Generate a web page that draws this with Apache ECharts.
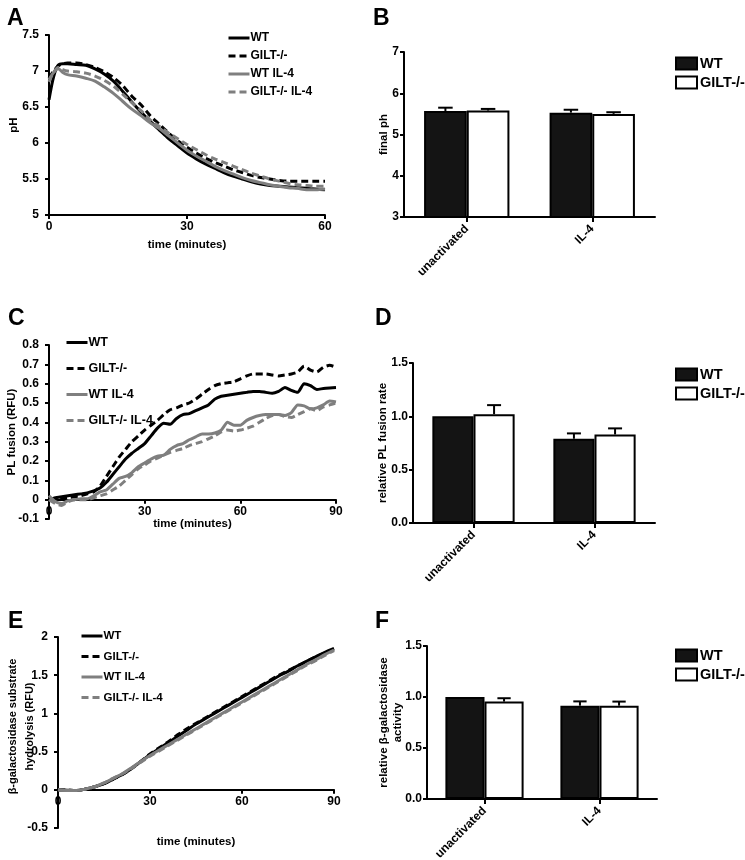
<!DOCTYPE html>
<html><head><meta charset="utf-8">
<script src="https://cdn.jsdelivr.net/npm/echarts/dist/echarts.min.js"></script>
<style>html,body{margin:0;padding:0;background:#fff;}.c{position:absolute;left:0;top:0;width:745px;height:860px;}</style>
</head><body>
<div id="l" class="c"></div><div id="b" class="c"></div>
<script>
// ---------- Panel A : pH vs time ----------
const tA = [0,1,2,3,4,6,8,10,12,14,16,18,20,22,24,26,28,30,32,34,36,38,40,42,44,46,48,50,52,54,56,58,60];
const aWT    = [6.6,6.92,7.08,7.1,7.1,7.09,7.08,7.03,6.96,6.86,6.72,6.57,6.43,6.3,6.18,6.06,5.96,5.86,5.78,5.71,5.65,5.59,5.54,5.5,5.46,5.43,5.41,5.4,5.39,5.38,5.37,5.36,5.35];
const aKO    = [6.9,7.0,7.07,7.1,7.11,7.11,7.09,7.05,6.99,6.91,6.8,6.65,6.53,6.38,6.26,6.14,6.03,5.94,5.86,5.79,5.73,5.68,5.63,5.59,5.55,5.52,5.5,5.48,5.47,5.47,5.47,5.47,5.47];
const aWTIL4 = [6.88,6.98,7.03,6.98,6.95,6.93,6.9,6.86,6.78,6.69,6.58,6.47,6.38,6.28,6.2,6.1,6.0,5.9,5.82,5.75,5.68,5.62,5.57,5.52,5.48,5.45,5.42,5.4,5.38,5.37,5.35,5.35,5.36];
const aKOIL4 = [6.85,6.98,7.05,7.02,7.0,6.99,6.97,6.93,6.87,6.79,6.68,6.56,6.45,6.32,6.23,6.14,6.06,5.98,5.91,5.84,5.78,5.73,5.68,5.63,5.58,5.54,5.5,5.47,5.44,5.42,5.41,5.4,5.4];
// ---------- Panel C : PL fusion ----------
const tC = [0,2,4,6,8,10,12,14,16,18,20,22,24,26,28,30,32,34,36,38,40,42,44,46,48,50,52,54,56,58,60,62,64,66,68,70,72,74,76,78,80,82,84,86,88,90];
const cWT    = [0,0.01,0.015,0.02,0.025,0.03,0.035,0.045,0.06,0.09,0.13,0.17,0.21,0.24,0.265,0.29,0.33,0.37,0.395,0.39,0.42,0.44,0.445,0.46,0.475,0.49,0.52,0.535,0.54,0.545,0.55,0.555,0.56,0.56,0.555,0.55,0.56,0.58,0.565,0.555,0.6,0.59,0.57,0.575,0.578,0.58];
const cKO    = [0,0.005,0.01,0.01,0.015,0.02,0.03,0.04,0.07,0.12,0.17,0.22,0.26,0.3,0.33,0.36,0.385,0.41,0.44,0.465,0.475,0.49,0.5,0.52,0.545,0.57,0.59,0.6,0.605,0.61,0.625,0.64,0.65,0.65,0.65,0.645,0.64,0.645,0.65,0.66,0.69,0.67,0.66,0.685,0.695,0.685];
const cWTIL4 = [0.02,-0.01,-0.02,-0.005,0,0.005,0.005,0.02,0.04,0.05,0.08,0.11,0.12,0.14,0.17,0.19,0.21,0.225,0.23,0.26,0.28,0.29,0.31,0.325,0.34,0.34,0.345,0.36,0.4,0.385,0.385,0.41,0.425,0.435,0.44,0.44,0.44,0.435,0.45,0.49,0.485,0.47,0.475,0.49,0.51,0.505];
const cKOIL4 = [0,-0.02,-0.03,-0.01,0,0,0,0.01,0.02,0.03,0.05,0.07,0.1,0.13,0.16,0.18,0.2,0.215,0.23,0.245,0.255,0.265,0.28,0.29,0.3,0.315,0.33,0.35,0.36,0.355,0.36,0.37,0.38,0.4,0.42,0.435,0.44,0.43,0.425,0.44,0.455,0.47,0.46,0.48,0.49,0.5];
// ---------- Panel E : beta-galactosidase ----------
const tE = [0,3,6,9,12,15,18,21,24,27,30,33,36,39,42,45,48,51,54,57,60,63,66,69,72,75,78,81,84,87,90];
const eWT    = [0,-0.005,-0.01,0.01,0.04,0.08,0.14,0.2,0.28,0.37,0.46,0.54,0.62,0.7,0.78,0.86,0.93,1.0,1.07,1.14,1.21,1.28,1.35,1.42,1.49,1.55,1.62,1.68,1.74,1.8,1.85];
const eKO    = [0,-0.005,-0.01,0.01,0.04,0.08,0.14,0.2,0.28,0.37,0.47,0.55,0.63,0.72,0.8,0.87,0.94,1.01,1.08,1.15,1.22,1.29,1.36,1.43,1.5,1.56,1.62,1.68,1.74,1.79,1.84];
const eWTIL4 = [0,-0.01,-0.01,0.01,0.04,0.09,0.15,0.21,0.29,0.37,0.45,0.52,0.59,0.66,0.73,0.8,0.87,0.94,1.01,1.08,1.15,1.22,1.29,1.36,1.43,1.5,1.57,1.64,1.7,1.77,1.83];
const eKOIL4 = [0,-0.01,-0.01,0.01,0.04,0.09,0.15,0.21,0.28,0.36,0.44,0.51,0.58,0.65,0.72,0.79,0.86,0.93,1.0,1.07,1.14,1.21,1.28,1.35,1.42,1.49,1.56,1.63,1.69,1.76,1.82];
// ---------- Bar panels ----------
const cats = ['unactivated','IL-4'];
const bWT = [5.57,5.53], bWTerr = [0.08,0.07], bKO = [5.58,5.5], bKOerr = [0.04,0.04];
const dWT = [1.0,0.79], dWTerr = [0,0.05], dKO = [1.02,0.83], dKOerr = [0.085,0.057];
const fWT = [1.0,0.915], fWTerr = [0,0.042], fKO = [0.955,0.915], fKOerr = [0.033,0.04];
const lineNames = ['WT','GILT-/-','WT IL-4','GILT-/- IL-4'];
const barNames = ['WT','GILT-/-'];

const FF = 'Liberation Sans, Arial, sans-serif';
const txt = (s, extra) => Object.assign({fontFamily:FF, fontWeight:'bold', fontSize:s, color:'#000'}, extra||{});
const zip = (t, v) => t.map((x,i)=>[x, v[i]]);
const axLine = {show:true, onZero:false, lineStyle:{color:'#000', width:2}};
const axTick = {show:true, length:4, lineStyle:{color:'#000', width:2}};
const G = (l,t,w,h) => ({left:l, top:t, width:w, height:h, containLabel:false, outerBoundsMode:'none'});

// x axis sits at y = 0 : offset it up from the grid bottom by the share of the range below zero
function xVal(gi, max, gap, yMin, yMax, gridH){
  const off = yMin < 0 ? -gridH * (-yMin) / (yMax - yMin) : 0;
  return {type:'value', gridIndex:gi, min:0, max:max, interval:30, axisLine:axLine, axisTick:axTick, offset:off,
    axisLabel:{show:true, margin:6, ...txt(12)}, splitLine:{show:false}, nameMoveOverlap:false,
    name:'time (minutes)', nameLocation:'middle', nameGap:gap, nameTextStyle:txt(11.5)};
}
function yVal(gi, min, max, iv, name, gap, fmt, extra, margin){
  return {type:'value', gridIndex:gi, min:min, max:max, interval:iv, axisLine:axLine, axisTick:axTick,
    axisLabel:Object.assign({show:true, margin:margin||10, ...txt(12)}, fmt?{formatter:fmt}:{}), splitLine:{show:false},
    nameMoveOverlap:false, name:name, nameLocation:'middle', nameGap:gap, nameTextStyle:txt(11.5, extra||{})};
}
const styles = [
  {color:'#000', type:'solid'}, {color:'#000', type:[7,4]},
  {color:'#7f7f7f', type:'solid'}, {color:'#7f7f7f', type:[7,4]}
];
function lines(gi, t, arrs, smooth){
  return arrs.map((a,k)=>({type:'line', name:lineNames[k], xAxisIndex:gi, yAxisIndex:gi, data:zip(t,a),
    symbol:'none', showSymbol:false, smooth:smooth, animation:false,
    lineStyle:{width:3, color:styles[k].color, type:styles[k].type}, itemStyle:{color:styles[k].color}}));
}
function lineLegend(left, top, gap, fs){
  return {orient:'vertical', left:left, top:top, itemWidth:21, itemHeight:12, itemGap:gap, selectedMode:false,
    data:lineNames, itemStyle:{color:'rgba(0,0,0,0)', borderColor:'rgba(0,0,0,0)', borderWidth:0, opacity:0},
    lineStyle:{width:3}, textStyle:txt(fs, {padding:[0,0,0,-4]})};
}
const letters = [['A',2,2],['B',368,2],['C',3,302],['D',370,302],['E',3,605],['F',370,605]];

const gA = [49,35,276,180], gC = [49,345,287,174], gE = [58,637,276,191];
const chartL = echarts.init(document.getElementById('l'), null, {renderer:'canvas'});
chartL.setOption({
  animation:false,
  title: letters.map(l=>({text:l[0], left:l[1], top:l[2], textStyle:txt(23)})),
  grid:[G(...gA), G(...gC), G(...gE)],
  xAxis:[xVal(0,60,24,5,7.5,gA[3]), xVal(1,90,18,-0.1,0.8,gC[3]), xVal(2,90,46,-0.5,2,gE[3])],
  yAxis:[yVal(0,5,7.5,0.5,'pH',29), yVal(1,-0.1,0.8,0.1,'PL fusion (RFU)',31),
         yVal(2,-0.5,2,0.5,'β-galactosidase substrate\nhydrolysis (RFU)',20,null,{fontSize:11, lineHeight:17, padding:[0,0,0,12]})],
  legend:[lineLegend(222,27,6,12), lineLegend(60,331,13,12.5), lineLegend(75,625,8.5,11.5)],
  series:[...lines(0,tA,[aWT,aKO,aWTIL4,aKOIL4],0.3), ...lines(1,tC,[cWT,cKO,cWTIL4,cKOIL4],0.2), ...lines(2,tE,[eWT,eKO,eWTIL4,eKOIL4],0.3)]
});

// ---------- bars ----------
const GAP = 0.32;
function errRender(params, api){
  const ci = api.value(0), v = api.value(1), e = api.value(2), w = api.value(3);
  if (!e) return null;
  const base = api.coord([ci, v]);
  const top = api.coord([ci, v + e]);
  const band = api.size([1, 0])[0];
  const bw = band * (1 - GAP) / 2;
  const x = base[0] + (w === 0 ? -bw/2 : bw/2);
  const h = bw * 0.17;
  const st = {stroke:'#000', lineWidth:2};
  return {type:'group', children:[
    {type:'line', shape:{x1:x, y1:base[1], x2:x, y2:top[1]}, style:st},
    {type:'line', shape:{x1:x-h, y1:top[1], x2:x+h, y2:top[1]}, style:st}
  ]};
}
function barSeries(gi, wt, wte, ko, koe){
  return [
    {type:'bar', name:'WT', xAxisIndex:gi, yAxisIndex:gi, data:wt, barGap:'0%', barCategoryGap:(GAP*100)+'%',
      itemStyle:{color:'#141414', borderColor:'#000', borderWidth:2}},
    {type:'bar', name:'GILT-/-', xAxisIndex:gi, yAxisIndex:gi, data:ko, barGap:'0%', barCategoryGap:(GAP*100)+'%',
      itemStyle:{color:'#fff', borderColor:'#000', borderWidth:2}},
    {type:'custom', xAxisIndex:gi, yAxisIndex:gi, renderItem:errRender, z:5, encode:{x:0, y:1},
      data:[[0,wt[0],wte[0],0],[1,wt[1],wte[1],0],[0,ko[0],koe[0],1],[1,ko[1],koe[1],1]]}
  ];
}
function xCat(gi){
  return {type:'category', gridIndex:gi, data:cats, axisLine:axLine,
    axisTick:{show:true, alignWithLabel:true, length:5, lineStyle:{color:'#000', width:2}},
    axisLabel:{show:true, rotate:45, interval:0, margin:10, ...txt(12)}};
}
function barLegend(top){
  return {orient:'vertical', left:670, top:top, itemWidth:21, itemHeight:12, itemGap:4, selectedMode:false,
    icon:'rect', data:barNames, textStyle:txt(14.5, {padding:[0,0,0,-2]})};
}
const f1 = v => v.toFixed(1);
const chartB = echarts.init(document.getElementById('b'), null, {renderer:'canvas'});
chartB.setOption({
  animation:false,
  grid:[G(404,52,251,165), G(413,363,242,160), G(427,646,230,153)],
  xAxis:[xCat(0), xCat(1), xCat(2)],
  yAxis:[yVal(0,3,7,1,'final ph',14,null,null,5), yVal(1,0,1.5,0.5,'relative PL fusion rate',24,f1,null,5),
         yVal(2,0,1.5,0.5,'relative β-galactosidase\nactivity',22,f1,{lineHeight:14},5)],
  legend:[barLegend(51), barLegend(362), barLegend(643)],
  series:[...barSeries(0,bWT,bWTerr,bKO,bKOerr), ...barSeries(1,dWT,dWTerr,dKO,dKOerr), ...barSeries(2,fWT,fWTerr,fKO,fKOerr)]
});
</script></body></html>
